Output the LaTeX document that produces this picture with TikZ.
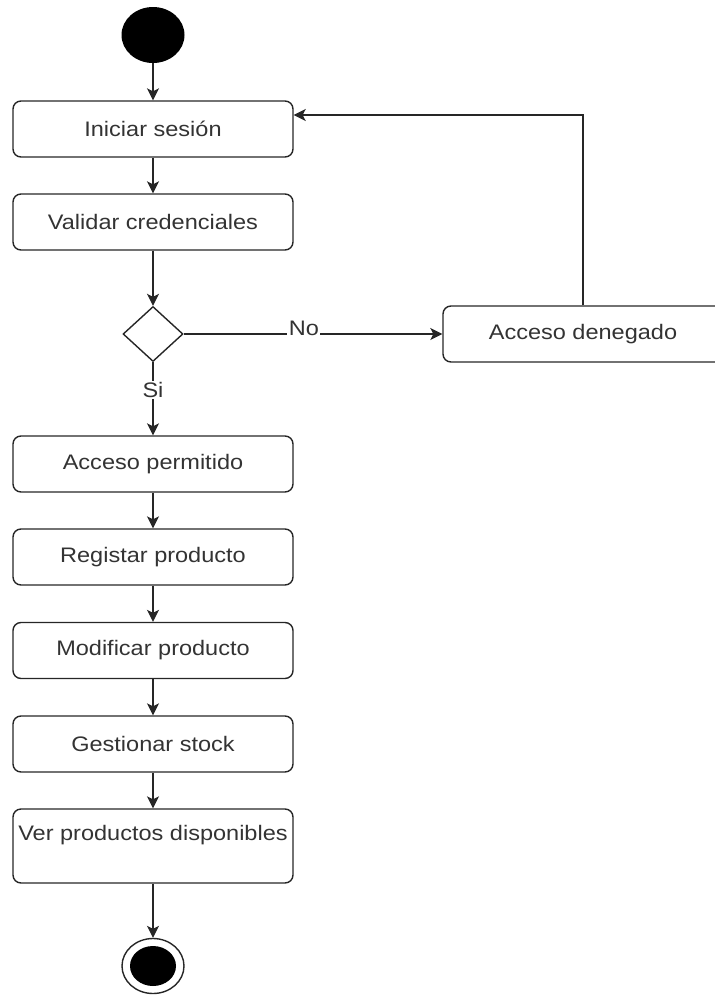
\documentclass[tikz,border=0pt]{standalone}
\usepackage{fontspec}
\setmainfont{Liberation Sans}[FakeStretch=1.12]
\usetikzlibrary{shapes.geometric,arrows.meta}
\begin{document}
\begin{tikzpicture}[x=1bp,y=-1bp,
  every node/.style={font=\fontsize{21bp}{25bp}\selectfont, text=black!80},
  action/.style={draw=black!85, rounded corners=8bp, line width=1.4bp,
    minimum width=280bp, minimum height=56bp, inner sep=0pt},
  choice/.style={diamond, draw=black!85, line width=1.4bp, inner sep=0pt,
    minimum width=60bp, minimum height=55bp},
  initial/.style={ellipse, fill=black, inner sep=0pt,
    minimum width=63bp, minimum height=56bp},
  finalring/.style={ellipse, draw=black!85, line width=1.4bp, inner sep=0pt,
    minimum width=62bp, minimum height=55bp},
  finaldot/.style={ellipse, fill=black, inner sep=0pt,
    minimum width=46bp, minimum height=40bp},
  flow/.style={draw=black!85, line width=1.4bp,
    -{Stealth[length=12bp,width=12bp,inset=3bp]}},
  guard/.style={fill=white, inner sep=1.5bp}
]
\useasboundingbox (0,0) rectangle (715,996);

% nodes
\node[initial] (start) at (153,35) {};
\node[action] (init) at (153,129) {Iniciar sesión};
\node[action] (valid) at (153,222) {Validar credenciales};
\node[choice] (dec) at (153,334) {};
\node[action] (denied) at (583,334) {Acceso denegado};
\node[action] (perm) at (153,464) {Acceso permitido};
\node[action] (reg) at (153,557) {Registar producto};
\node[action] (mod) at (153,650.5) {Modificar producto};
\node[action] (gest) at (153,744) {Gestionar stock};
\node[action, minimum height=74bp, text height=15bp, text depth=26bp]
  (ver) at (153,846) {Ver productos disponibles};
\node[finalring] (finish) at (153,966) {};
\node[finaldot] (finishdot) at (finish.center) {};

% connectors
\draw[flow] (start) -- (init);
\draw[flow] (init) -- (valid);
\draw[flow] (valid) -- (dec);
\draw[flow] (dec.east) -- (denied.west)
  node[guard, pos=0.465, yshift=6bp] {No};
\draw[flow] (dec.south) -- (perm.north)
  node[guard, pos=0.38] {Si};
\draw[flow] (denied.north) |- ([yshift=14bp]init.east);
\draw[flow] (perm) -- (reg);
\draw[flow] (reg) -- (mod);
\draw[flow] (mod) -- (gest);
\draw[flow] (gest) -- (ver);
\draw[flow] (ver) -- (finish);
\end{tikzpicture}
\end{document}
